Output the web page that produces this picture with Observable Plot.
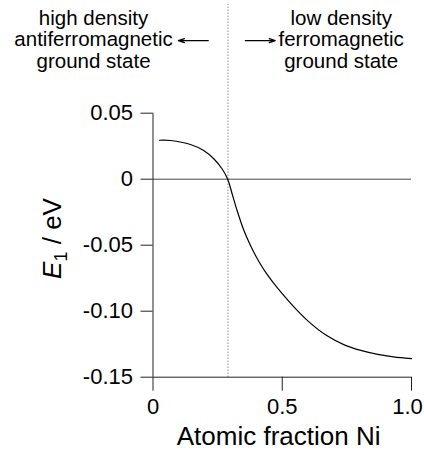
<!DOCTYPE html>
<html>
<head>
<meta charset="utf-8">
<script src="https://cdn.jsdelivr.net/npm/d3@7"></script>
<script src="https://cdn.jsdelivr.net/npm/@observablehq/plot@0.6"></script>
<style>
  html, body { margin: 0; padding: 0; background: white; }
</style>
</head>
<body>
<div id="chart"></div>
<script>
// Data
const fractionNi = [0.025, 0.068, 0.145, 0.196, 0.235, 0.267, 0.289, 0.306, 0.325, 0.351, 0.37, 0.389, 0.41, 0.44, 0.49, 0.544, 0.6, 0.672, 0.74, 0.8, 0.87, 0.93, 1.0];
const energyE1  = [0.0295, 0.0293, 0.0263, 0.0217, 0.0155, 0.0079, 0.0, -0.011, -0.0235, -0.0385, -0.0472, -0.0550, -0.0625, -0.0717, -0.0845, -0.0965, -0.1075, -0.1185, -0.1255, -0.1295, -0.1327, -0.1346, -0.136];
const crossover = 0.29;

const xTicks = [0, 0.5, 1];
const xTickLabels = ["0", "0.5", "1.0"];
const yTicks = [0.05, 0, -0.05, -0.10, -0.15];
const yTickLabels = ["0.05", "0", "-0.05", "-0.10", "-0.15"];

const leftNote = "high density\nantiferromagnetic\nground state";
const rightNote = "low density\nferromagnetic\nground state";
const xTitle = "Atomic fraction Ni";
const yTitle = "E1 / eV";

const curve = fractionNi.map((x, i) => ({x, y: energyE1[i]}));

// Annotation placement (data coordinates)
const headerY = 0.106, arrowY = 0.105, ruleTop = 0.1323;
const notes = [
  {x: -0.230, y: headerY, text: leftNote},
  {x: 0.728, y: headerY, text: rightNote}
];
const arrows = [
  {x1: 0.214, x2: 0.098, y: arrowY},
  {x1: 0.357, x2: 0.473, y: arrowY}
];

const font = "'Liberation Sans', Arial, Helvetica, sans-serif";

const plot = Plot.plot({
  width: 424,
  height: 452,
  marginLeft: 152.5,
  marginRight: 13,
  marginTop: 112.7,
  marginBottom: 75.3,
  x: {domain: [0, 1]},
  y: {domain: [-0.15, 0.05]},
  style: {fontFamily: font, fontSize: "22px", color: "black", background: "white"},
  marks: [
    Plot.ruleX([crossover], {y1: -0.15, y2: ruleTop, stroke: "#555", strokeDasharray: "1,2", strokeWidth: 1}),
    Plot.ruleY([0], {stroke: "#444", strokeWidth: 1}),
    Plot.ruleX([0], {stroke: "#222", strokeWidth: 1}),
    Plot.ruleY([-0.15], {stroke: "#222", strokeWidth: 1}),
    Plot.axisX({ticks: xTicks, tickFormat: (d) => xTickLabels[xTicks.indexOf(d)], tickSize: 14, tickPadding: 7, label: null, fontSize: 22, stroke: "#222"}),
    Plot.axisY({ticks: yTicks, tickFormat: (d) => yTickLabels[yTicks.indexOf(d)], tickSize: 12, tickPadding: 8, label: null, fontSize: 22, stroke: "#222"}),
    Plot.line(curve, {x: "x", y: "y", curve: "catmull-rom", stroke: "black", strokeWidth: 1.2}),
    Plot.text(notes, {x: "x", y: "y", text: "text", fontSize: 20.5, lineHeight: 1.05, textAnchor: "middle", lineAnchor: "middle", fill: "black"}),
    Plot.arrow(arrows, {x1: "x1", x2: "x2", y1: "y", y2: "y", stroke: "black", strokeWidth: 1.2, headLength: 8, headAngle: 36}),
    Plot.text([xTitle], {x: () => 0.486, y: () => -0.2012, text: d => d, fontSize: 26, lineAnchor: "bottom", textAnchor: "middle", fill: "black"}),
    Plot.text([yTitle], {x: () => -0.388, y: () => -0.0449, text: d => d, fontSize: 26, rotate: -90, lineAnchor: "middle", textAnchor: "middle", fill: "black"})
  ]
});

// Style the y title: italic E with subscript 1
d3.select(plot).selectAll("text").filter(function() { return this.textContent === yTitle; }).each(function() {
  const t = d3.select(this);
  t.text(null);
  t.append("tspan").attr("font-style", "italic").text("E");
  t.append("tspan").attr("font-size", "18px").attr("dy", "6").text("1");
  t.append("tspan").attr("dy", "-6").text(" / eV");
});

// Nudge the last x tick label so it stays inside the picture
d3.select(plot).selectAll("text").filter(function() { return this.textContent === xTickLabels[xTickLabels.length - 1]; })
  .attr("dx", -4);

document.getElementById("chart").appendChild(plot);
</script>
</body>
</html>
